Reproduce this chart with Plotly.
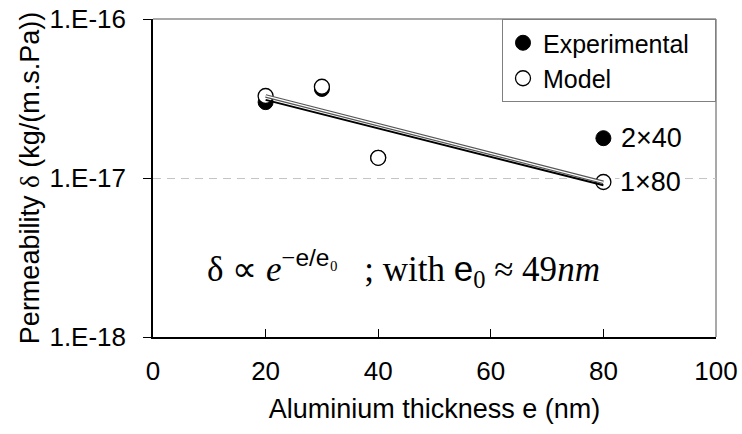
import math
import plotly.graph_objects as go

# ---- data ----
thickness = [20, 30, 40, 80]
experimental = [3.0e-17, 3.63e-17, 1.34e-17, 1.78e-17]
model = [3.28e-17, 3.75e-17, 1.34e-17, 9.44e-18]

fit_x = [20, 80]
exp_fit = [3.1e-17, 9.0e-18]
model_fit = [3.28e-17, 9.4e-18]

y_tickvals = [1e-18, 1e-17, 1e-16]
y_ticktext = ["1.E-18", "1.E-17", "1.E-16"]
x_tickvals = [0, 20, 40, 60, 80, 100]

label_2x40 = "2\u00d740"
label_1x80 = "1\u00d780"

SANS = "Liberation Sans, Arial, sans-serif"
SERIF = "Liberation Serif, Times New Roman, serif"
NB = "\u00a0"

fig = go.Figure()

fig.add_trace(go.Scatter(
    x=thickness, y=experimental, mode="markers", name="Experimental" + NB * 3,
    legendgroup="a",
    marker=dict(size=15, color="black", line=dict(color="black", width=1)),
))
fig.add_trace(go.Scatter(
    x=thickness, y=model, mode="markers", name="Model",
    legendgroup="b",
    marker=dict(size=15, color="white", line=dict(color="black", width=1.3)),
))
# model fit: gray double line
fig.add_trace(go.Scatter(x=fit_x, y=model_fit, mode="lines", showlegend=False,
                         line=dict(color="#555555", width=3.5)))
fig.add_trace(go.Scatter(x=fit_x, y=model_fit, mode="lines", showlegend=False,
                         line=dict(color="white", width=1.3)))
# experimental fit: black
fig.add_trace(go.Scatter(x=fit_x, y=exp_fit, mode="lines", showlegend=False,
                         line=dict(color="black", width=2)))

# plot border (top and right, gray)
fig.add_shape(type="line", xref="paper", yref="paper", x0=0, x1=1, y0=1, y1=1,
              line=dict(color="#8c8c8c", width=1.5), layer="below")
fig.add_shape(type="line", xref="paper", yref="paper", x0=1, x1=1, y0=0, y1=1,
              line=dict(color="#8c8c8c", width=1.5), layer="below")

fig.add_annotation(x=thickness[3], y=math.log10(experimental[3]), text=label_2x40,
                   xanchor="left", yanchor="middle", xshift=16, showarrow=False,
                   font=dict(family=SANS, size=27, color="black"))
fig.add_annotation(x=thickness[3], y=math.log10(model[3]), text=label_1x80,
                   xanchor="left", yanchor="middle", xshift=16, showarrow=False,
                   bgcolor="white", borderpad=0,
                   font=dict(family=SANS, size=27, color="black"))

formula = ("\u03b4 \u221d <i>e</i><sup>\u2212<span style='font-family:Liberation Sans'>e/e</span>\u2080</sup>"
           + NB * 3 + "; with <span style='font-family:Liberation Sans'>e</span><sub>0</sub> \u2248 49<i>nm</i>")
fig.add_annotation(xref="paper", yref="paper", x=0.445, y=0.215, text=formula,
                   xanchor="center", yanchor="middle", showarrow=False,
                   font=dict(family=SERIF, size=35, color="black"))

fig.update_layout(
    width=742, height=434,
    margin=dict(l=153, r=26, t=19, b=97, autoexpand=False),
    paper_bgcolor="white", plot_bgcolor="white",
    font=dict(family=SANS, size=26, color="black"),
    showlegend=True,
    legend=dict(x=1, y=1, xanchor="right", yanchor="top",
                bgcolor="white", bordercolor="#808080", borderwidth=1,
                font=dict(family=SANS, size=25, color="black"),
                tracegroupgap=0, itemwidth=30),
)
fig.update_xaxes(range=[0, 100], tickvals=x_tickvals, showgrid=False, zeroline=False,
                 automargin=False,
                 showline=True, linecolor="black", linewidth=1.5,
                 ticks="inside", ticklen=8, tickcolor="black", tickwidth=1,
                 ticklabelstandoff=10,
                 tickfont=dict(family=SANS, size=26),
                 title=dict(text="Aluminium thickness e (nm)", font=dict(family=SANS, size=27),
                            standoff=14))
fig.update_yaxes(type="log", range=[-18, -16], tickvals=y_tickvals, ticktext=y_ticktext,
                 automargin=False,
                 showgrid=True, gridcolor="#c4c4c4", gridwidth=1, griddash="8px,6px",
                 zeroline=False, showline=True, linecolor="black", linewidth=1.5,
                 ticks="outside", ticklen=8, tickcolor="black", tickwidth=1,
                 ticklabelstandoff=12,
                 tickfont=dict(family=SANS, size=26),
                 title=dict(text="Permeability <span style='font-family:Liberation Serif'>\u03b4</span> (kg/(m.s.Pa))",
                            font=dict(family=SANS, size=27), standoff=2))

fig.write_html("out.html",
               config={"displayModeBar": False},
               post_script="document.body.style.margin='0';document.body.style.overflow='hidden';")
